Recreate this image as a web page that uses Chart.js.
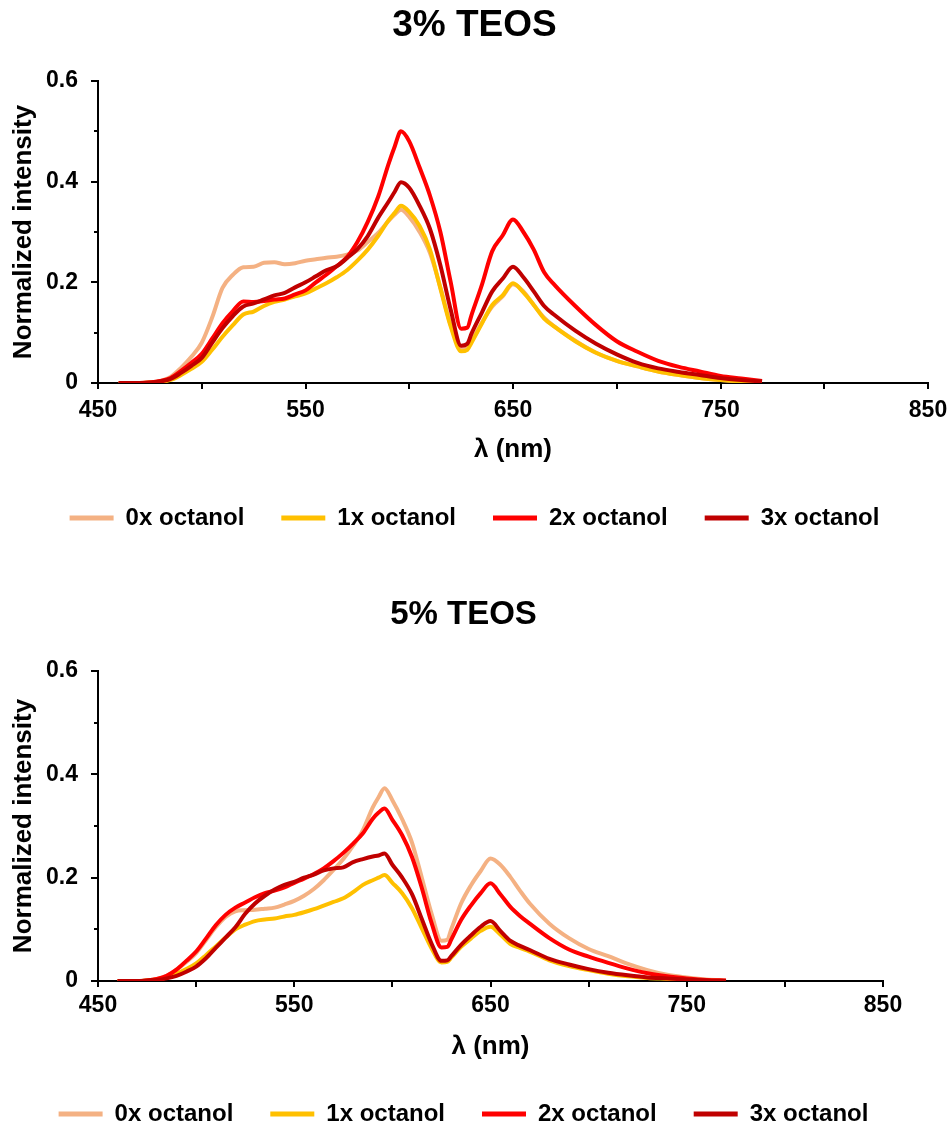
<!DOCTYPE html>
<html>
<head>
<meta charset="utf-8">
<script src="https://cdn.jsdelivr.net/npm/chart.js@4/dist/chart.umd.min.js"></script>
<style>
  html, body { margin: 0; padding: 0; background: #fff; overflow: hidden; width: 949px; height: 1127px; }
  canvas { position: absolute; left: 0; display: block; }
  #teos3 { top: 0; }
  #teos5 { top: 540px; }
</style>
</head>
<body>
<canvas id="teos3" width="949" height="540"></canvas>
<canvas id="teos5" width="949" height="596"></canvas>
<script>
// Emission wavelengths (nm) shared by every spectrum
const wavelengths = [460,470,475,480,485,490,495,500,505,510,515,520,525,530,535,540,545,550,555,560,565,570,575,580,585,590,593,596,600,605,610,615,620,625,628,630,635,640,645,650,655,660,665,670,680,690,700,710,720,730,740,750,760,770];

// 3% TEOS spectra
const teos3_oct0 = [0,0,.001,.004,.012,.030,.052,.080, .130,.189,.215,.230,.231,.239,.240,.236, .238,.243,.246,.249,.251,.255,.263,.280, .298,.322,.335,.344,.330,.300,.258,.190, .115,.068,.070,.083,.120,.152,.172,.196, .182,.155,.130,.112,.084,.060,.044,.033, .023,.016,.010,.006,.003,.001];
const teos3_oct1 = [0,0,.001,.002,.006,.016,.028,.042, .066,.092,.115,.136,.142,.153,.161,.166, .172,.178,.188,.198,.210,.224,.243,.265, .292,.323,.338,.352,.340,.312,.265,.188, .112,.063,.066,.080,.118,.155,.174,.198, .180,.155,.128,.112,.083,.060,.044,.033, .023,.016,.010,.006,.003,.001];
const teos3_oct2 = [0,0,.001,.004,.010,.024,.040,.058, .088,.119,.143,.162,.161,.163,.166,.168, .176,.184,.200,.215,.232,.250,.280,.320, .370,.435,.470,.500,.480,.428,.372,.300, .200,.108,.110,.135,.195,.262,.293,.325, .300,.265,.220,.195,.153,.115,.083,.062, .044,.032,.023,.014,.009,.004];
const teos3_oct3 = [0,0,.001,.003,.008,.020,.034,.050, .080,.109,.133,.152,.158,.166,.174,.179, .190,.200,.212,.224,.232,.248,.266,.292, .328,.360,.380,.399,.388,.352,.306,.234, .145,.074,.078,.098,.140,.182,.207,.231, .210,.182,.153,.135,.104,.078,.057,.040, .029,.022,.016,.010,.006,.003];

// 5% TEOS spectra
const teos5_oct0 = [0,0,.001,.004,.010,.022,.037,.054, .079,.104,.124,.135,.137,.138,.140,.142, .148,.155,.165,.178,.195,.215,.236,.262, .292,.336,.356,.373,.350,.313,.268,.200, .130,.078,.080,.100,.150,.185,.213,.237, .225,.202,.175,.150,.111,.083,.062,.048, .033,.021,.012,.007,.003,.001];
const teos5_oct1 = [0,0,.001,.003,.007,.014,.023,.034, .050,.067,.084,.100,.109,.116,.119,.121, .125,.128,.133,.139,.146,.153,.160,.172, .186,.195,.200,.205,.190,.170,.141,.102, .063,.036,.037,.045,.066,.082,.097,.105, .090,.072,.064,.057,.040,.029,.021,.014, .009,.006,.004,.002,.001,0];
const teos5_oct2 = [0,0,.001,.004,.010,.022,.039,.057, .082,.108,.128,.142,.152,.162,.170,.175, .181,.190,.198,.207,.218,.232,.248,.266, .286,.314,.326,.334,.312,.282,.240,.180, .112,.065,.066,.080,.118,.146,.170,.189, .168,.144,.126,.111,.083,.061,.047,.035, .024,.015,.009,.005,.002,.001];
const teos5_oct3 = [0,0,.001,.002,.005,.010,.018,.028, .044,.064,.084,.104,.130,.150,.165,.177, .186,.192,.200,.206,.214,.218,.220,.230, .236,.241,.243,.247,.225,.200,.168,.120, .072,.039,.040,.048,.070,.088,.105,.116, .097,.078,.068,.060,.043,.032,.023,.016, .011,.007,.005,.003,.001,0];

const seriesNames = ['0x octanol', '1x octanol', '2x octanol', '3x octanol'];
const seriesColors = ['#F4B183', '#FFC000', '#FF0000', '#C00000'];
const xTickLabels = ['450', '550', '650', '750', '850'];
const yTickLabels = ['0', '0.2', '0.4', '0.6'];

const FONT = '"Liberation Sans", Arial, sans-serif';
const bold = size => ({ family: FONT, size: size, weight: 'bold' });

function buildChart(canvasId, titleText, series, L) {
  const datasets = series.map((vals, i) => ({
    label: seriesNames[i],
    data: wavelengths.map((w, k) => ({ x: w, y: vals[k] })),
    borderColor: seriesColors[i],
    backgroundColor: seriesColors[i],
    borderWidth: 4,
    pointRadius: 0,
    pointHoverRadius: 0,
    pointBorderWidth: 5,
    pointStyle: 'line',
    cubicInterpolationMode: 'monotone',
    fill: false,
    order: series.length - i   // later series are painted on top
  }));

  return new Chart(document.getElementById(canvasId), {
    type: 'line',
    data: { datasets },
    options: {
      responsive: false,
      animation: false,
      devicePixelRatio: 1,
      events: [],
      layout: { padding: { left: 0, right: L.padRight, top: 0, bottom: 0 } },
      plugins: {
        title: {
          display: true, text: titleText, color: '#000', font: bold(L.titleSize),
          padding: { top: L.titleTop, bottom: L.titleBottom }
        },
        legend: {
          position: 'bottom',
          labels: {
            usePointStyle: true, pointStyle: 'line', pointStyleWidth: 44,
            padding: 37, color: '#000', font: bold(24),
            sort: (a, b) => a.datasetIndex - b.datasetIndex
          }
        },
        tooltip: { enabled: false }
      },
      scales: {
        x: {
          type: 'linear', min: 450, max: 850,
          afterFit: s => { s.height = L.xHeight; s.paddingRight = 0; s.paddingLeft = 0; },
          ticks: {
            stepSize: 50, autoSkip: false, maxRotation: 0, padding: L.xTickPad,
            color: '#000', font: bold(23),
            callback: v => xTickLabels.includes(String(v)) ? String(v) : ''
          },
          grid: { drawOnChartArea: false, tickLength: 6, color: '#000', lineWidth: 2 },
          border: { color: '#000', width: 2 },
          title: { display: true, text: 'λ (nm)', color: '#000', font: bold(26), padding: { top: 0, bottom: L.xTitlePad } }
        },
        y: {
          min: 0, max: 0.6, weight: 1,
          afterFit: s => { s.width = 98; },
          ticks: {
            stepSize: 0.2, padding: 13, color: '#000', font: bold(23),
            callback: v => yTickLabels.find(t => Math.abs(parseFloat(t) - v) < 1e-6) ?? ''
          },
          grid: { drawOnChartArea: false, tickLength: 7, color: '#000', lineWidth: 2 },
          border: { color: '#000', width: 2 },
          title: { display: true, text: 'Normalized intensity', color: '#000', font: bold(26), padding: { top: 8.4, bottom: 0 } }
        },
        yMinor: {
          position: 'left', weight: 0, min: 0, max: 0.6,
          afterFit: s => { s.width = 0; },
          ticks: { display: false, stepSize: 0.1 },
          grid: { drawOnChartArea: false, tickLength: 4, color: '#000', lineWidth: 2 },
          border: { display: false }
        },
        yRight: {
          position: 'right', min: 0, max: 1,
          afterFit: s => { s.width = L.rightGap; },
          ticks: { display: false },
          grid: { display: false },
          border: { display: false }
        }
      }
    }
  });
}

buildChart('teos3', '3% TEOS', [teos3_oct0, teos3_oct1, teos3_oct2, teos3_oct3], {
  padRight: 0, rightGap: 21, titleSize: 37, titleTop: 3.8, titleBottom: 32.8,
  xHeight: 86, xTickPad: 8, xTitlePad: 3.4
});

buildChart('teos5', '5% TEOS', [teos5_oct0, teos5_oct1, teos5_oct2, teos5_oct3], {
  padRight: 22, rightGap: 44, titleSize: 33, titleTop: 55.2, titleBottom: 36.2,
  xHeight: 84, xTickPad: 5, xTitlePad: 3
});
</script>
</body>
</html>
